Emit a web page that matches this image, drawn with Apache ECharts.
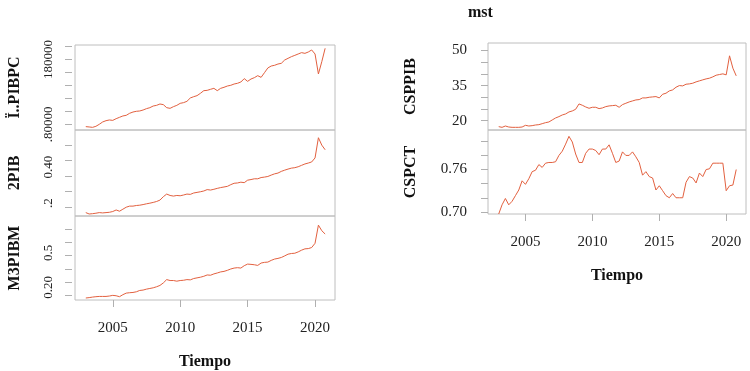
<!DOCTYPE html>
<html>
<head>
<meta charset="utf-8">
<script src="https://cdn.jsdelivr.net/npm/echarts@6/dist/echarts.min.js"></script>
<style>
  html, body {margin: 0; padding: 0; background: #fff;}
  #main {width: 750px; height: 371px;}
</style>
</head>
<body>
<div id="main"></div>
<script>
// quarterly series 2003Q1 - 2020Q4
const quarters = Array.from({length: 72}, (_, i) => 2003 + i / 4);

const pibpc = [
  76400, 75900, 75300, 76900, 80000, 83600, 85600, 86700, 86100, 88700, 90800, 92900,
  93900, 97000, 99000, 100100, 100600, 102100, 104200, 105700, 108300, 109300, 111400, 110400,
  105700, 104700, 107300, 109300, 112400, 113500, 115500, 120700, 122700, 124300, 127900, 132000,
  132500, 134100, 135600, 132000, 135600, 137200, 139200, 140300, 142300, 143400, 145400, 150600,
  146400, 150000, 152100, 155200, 152600, 159800, 167100, 170100, 171200, 173200, 174300, 179400,
  182000, 184600, 186600, 188700, 190800, 189700, 191800, 194900, 188700, 157800, 176800, 197500
];
const pib2 = [
  0.163, 0.154, 0.156, 0.159, 0.163, 0.161, 0.163, 0.165, 0.170, 0.180, 0.172, 0.185,
  0.198, 0.205, 0.205, 0.209, 0.211, 0.215, 0.220, 0.224, 0.229, 0.235, 0.244, 0.266,
  0.283, 0.274, 0.270, 0.274, 0.272, 0.277, 0.283, 0.281, 0.290, 0.294, 0.298, 0.303,
  0.312, 0.309, 0.314, 0.320, 0.325, 0.329, 0.333, 0.344, 0.353, 0.355, 0.360, 0.357,
  0.373, 0.377, 0.382, 0.382, 0.390, 0.393, 0.397, 0.406, 0.414, 0.419, 0.430, 0.438,
  0.445, 0.451, 0.454, 0.460, 0.469, 0.478, 0.484, 0.491, 0.517, 0.648, 0.600, 0.570
];
const m3pibm = [
  0.080, 0.083, 0.087, 0.090, 0.092, 0.092, 0.092, 0.095, 0.100, 0.097, 0.090, 0.105,
  0.117, 0.120, 0.122, 0.127, 0.137, 0.140, 0.147, 0.152, 0.157, 0.165, 0.175, 0.194,
  0.219, 0.212, 0.212, 0.207, 0.212, 0.214, 0.219, 0.217, 0.227, 0.232, 0.237, 0.244,
  0.254, 0.252, 0.262, 0.269, 0.277, 0.281, 0.289, 0.299, 0.306, 0.309, 0.306, 0.324,
  0.336, 0.334, 0.331, 0.326, 0.344, 0.349, 0.351, 0.364, 0.374, 0.379, 0.386, 0.398,
  0.411, 0.416, 0.418, 0.428, 0.441, 0.451, 0.453, 0.461, 0.493, 0.630, 0.588, 0.563
];
const csppib = [
  17.43, 17.14, 17.71, 17.28, 17.14, 17.14, 17.14, 17.28, 18.00, 17.71, 17.86, 18.14,
  18.28, 18.71, 19.14, 19.43, 20.29, 21.14, 21.72, 22.43, 22.86, 23.72, 24.15, 24.86,
  27.15, 26.57, 25.86, 25.29, 25.72, 25.72, 25.14, 25.43, 26.00, 26.29, 26.43, 26.57,
  25.72, 26.86, 27.43, 28.00, 28.43, 28.86, 29.00, 29.72, 29.72, 30.00, 30.15, 30.29,
  29.72, 31.29, 31.72, 32.72, 33.15, 34.29, 35.00, 34.86, 35.58, 35.72, 36.00, 36.58,
  37.01, 37.44, 37.86, 38.15, 38.72, 39.43, 39.72, 40.01, 39.58, 47.72, 42.44, 39.15
];
const cspct = [
  0.697, 0.710, 0.719, 0.710, 0.715, 0.723, 0.731, 0.744, 0.739, 0.747, 0.757, 0.759,
  0.767, 0.763, 0.769, 0.770, 0.770, 0.771, 0.780, 0.786, 0.796, 0.807, 0.799, 0.782,
  0.770, 0.770, 0.783, 0.789, 0.789, 0.787, 0.781, 0.789, 0.789, 0.795, 0.783, 0.770,
  0.772, 0.785, 0.780, 0.780, 0.785, 0.778, 0.770, 0.752, 0.757, 0.750, 0.748, 0.731,
  0.737, 0.730, 0.723, 0.720, 0.726, 0.720, 0.720, 0.720, 0.742, 0.750, 0.748, 0.741,
  0.755, 0.750, 0.760, 0.761, 0.769, 0.769, 0.769, 0.769, 0.730, 0.737, 0.738, 0.760
];

const yearTicks = [2005, 2010, 2015, 2020];

const pibpcTicks = [80000, 100000, 120000, 140000, 160000, 180000, 200000];
const pibpcLabelVals = [180000, 80000];
const pibpcLabelText = ['180000', '.80000'];

const pib2Ticks = [0.2, 0.3, 0.4, 0.5, 0.6];
const pib2LabelVals = [0.457, 0.224];
const pib2LabelText = ['0.40', '.2'];

const m3Ticks = [0.1, 0.2, 0.3, 0.4, 0.5, 0.6];
const m3LabelVals = [0.421, 0.160];
const m3LabelText = ['0.5', '0.20'];

const csppibTicks = [20, 25, 30, 35, 40, 45, 50];
const csppibLabelVals = [20, 35, 50];
const csppibLabelText = ['20', '35', '50'];

const cspctTicks = [0.70, 0.72, 0.74, 0.76, 0.78, 0.80];
const cspctLabelVals = [0.70, 0.76];
const cspctLabelText = ['0.70', '0.76'];

const serif = "'Liberation Serif', 'DejaVu Serif', serif";
const lineColor = '#E2603F';
const boxColor = '#BEBEBE';
const tickColor = '#B0B0B0';

const panels = [
  {name: 'Ï..PIBPC', data: pibpc, grid: {left: 75, top: 45, width: 260, height: 85},
   min: 71200, max: 202600, ticks: pibpcTicks, lv: pibpcLabelVals, lt: pibpcLabelText, left: true},
  {name: '2PIB', data: pib2, grid: {left: 75, top: 130, width: 260, height: 86},
   min: 0.141, max: 0.698, ticks: pib2Ticks, lv: pib2LabelVals, lt: pib2LabelText, left: true},
  {name: 'M3PIBM', data: m3pibm, grid: {left: 75, top: 216, width: 260, height: 85},
   min: 0.065, max: 0.699, ticks: m3Ticks, lv: m3LabelVals, lt: m3LabelText, left: true, bottom: true},
  {name: 'CSPPIB', data: csppib, grid: {left: 488, top: 43, width: 258, height: 87},
   min: 16.0, max: 53.2, ticks: csppibTicks, lv: csppibLabelVals, lt: csppibLabelText},
  {name: 'CSPCT', data: cspct, grid: {left: 488, top: 130, width: 258, height: 84},
   min: 0.697, max: 0.816, ticks: cspctTicks, lv: cspctLabelVals, lt: cspctLabelText, bottom: true}
];

const chart = echarts.init(document.getElementById('main'));

chart.setOption({
  animation: false,
  backgroundColor: '#fff',
  title: {
    text: 'mst', left: 463, top: 0,
    textStyle: {fontFamily: serif, fontWeight: 'bold', fontSize: 16, color: '#111'}
  },
  grid: panels.map(p => Object.assign({show: true, borderColor: boxColor, borderWidth: 1}, p.grid)),
  xAxis: panels.map((p, i) => ({
    type: 'value', gridIndex: i, min: 2002.2, max: 2021.48,
    axisLine: {show: false},
    splitLine: {show: false},
    axisTick: {show: !!p.bottom, length: 7, lineStyle: {color: tickColor}, customValues: yearTicks},
    axisLabel: {show: !!p.bottom, customValues: yearTicks, margin: 21,
      formatter: v => String(Math.round(v)),
      fontFamily: serif, fontSize: 15, color: '#222'},
    name: p.bottom ? 'Tiempo' : '', nameLocation: 'middle', nameGap: 54,
    nameTextStyle: {fontFamily: serif, fontWeight: 'bold', fontSize: 16, color: '#111'}
  })),
  yAxis: panels.map((p, i) => ({
    type: 'value', gridIndex: i, min: p.min, max: p.max,
    offset: p.left ? 3 : 0,
    axisLine: {show: false},
    splitLine: {show: false},
    axisTick: {show: true, length: 7, lineStyle: {color: tickColor}, customValues: p.ticks},
    axisLabel: {
      customValues: p.lv,
      formatter: v => {
        const k = p.lv.findIndex(x => Math.abs(x - v) < 1e-6 * Math.max(1, Math.abs(x)));
        return k >= 0 ? p.lt[k] : '';
      },
      rotate: p.left ? 90 : 0,
      margin: p.left ? 17 : 21,
      fontFamily: serif, fontSize: p.left ? 13 : 15, color: '#222'
    },
    name: p.name, nameLocation: 'middle', nameRotate: 90, nameGap: p.left ? 49 : 69,
    nameTextStyle: {fontFamily: serif, fontWeight: 'bold', fontSize: 16, color: '#111'}
  })),
  series: panels.map((p, i) => ({
    type: 'line', xAxisIndex: i, yAxisIndex: i,
    data: quarters.map((t, j) => [t, p.data[j]]),
    showSymbol: false,
    lineStyle: {color: lineColor, width: 1},
    itemStyle: {color: lineColor}
  }))
});
</script>
</body>
</html>
